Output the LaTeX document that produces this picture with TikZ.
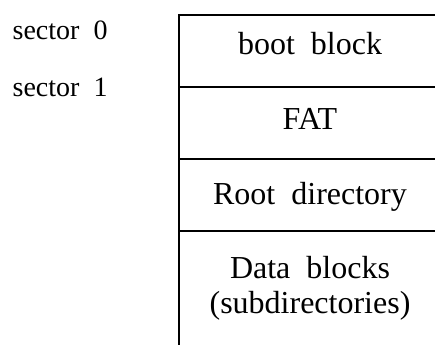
\documentclass[tikz,border=0pt]{standalone}
\usepackage{fontspec}
\setmainfont{Liberation Serif}[WordSpace=2]
\begin{document}
\begin{tikzpicture}[x=1pt,y=1pt,line width=1.3pt,
  cell/.style={anchor=base,inner sep=0pt,font=\fontsize{32}{36}\selectfont},
  sec/.style={anchor=base west,inner sep=0pt,font=\fontsize{28}{32}\selectfont}]
\useasboundingbox (0,0) rectangle (435,345);
% frame
\draw (435,330) -- (179,330) -- (179,0);
\foreach \y in {258,186,114}
  \draw (179,\y) -- (435,\y);
% sector labels
\node[sec] (sec0) at (12,305) {sector 0};
\node[sec] (sec1) at (12,248) {sector 1};
% cells
\node[cell] (boot) at (310,290) {boot block};
\node[cell] (fat)  at (310,215) {FAT};
\node[cell] (root) at (310,140) {Root directory};
\node[cell] (data) at (310,67)  {Data blocks};
\node[cell] (sub)  at (310,32)  {(subdirectories)};
\end{tikzpicture}
\end{document}
